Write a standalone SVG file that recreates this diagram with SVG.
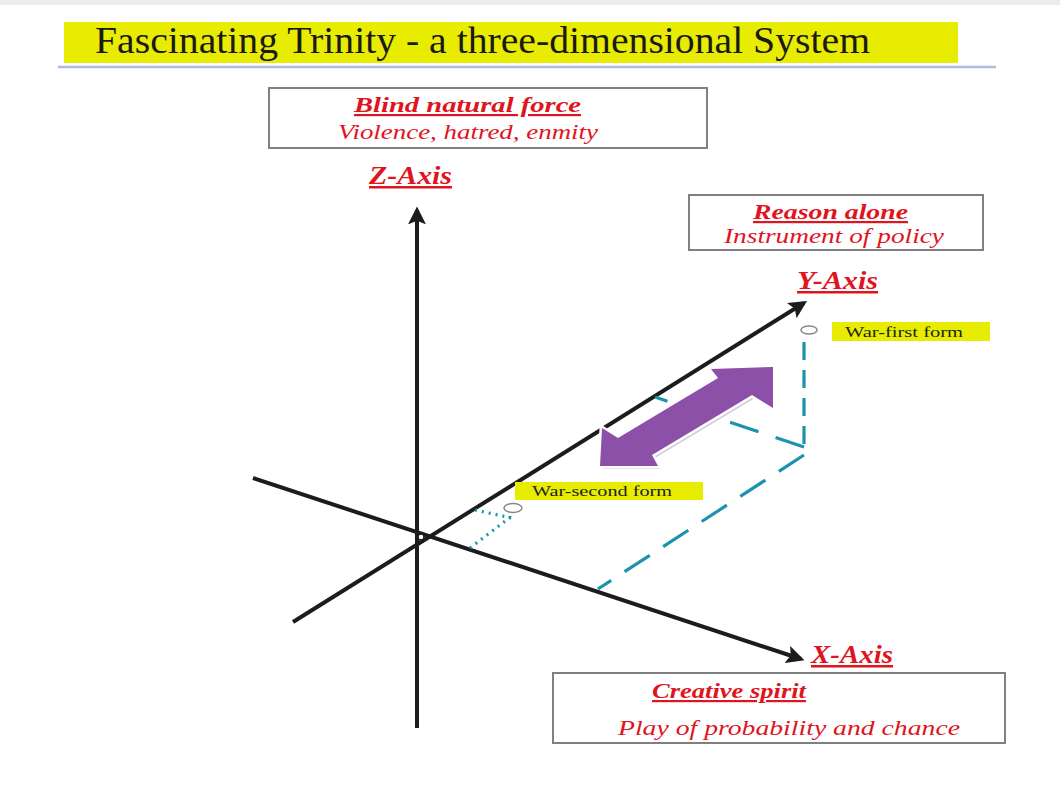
<svg xmlns="http://www.w3.org/2000/svg" width="1060" height="787" viewBox="0 0 1060 787">
<defs>
<style>
.box{fill:#fff;stroke:#808080;stroke-width:2}
.red{fill:#e0141e;font-family:"Liberation Serif",serif;font-style:italic}
.hd{font-weight:bold;text-decoration:underline}
.axis{stroke:#1c1c1c;stroke-width:4;fill:none}
.teal{stroke:#1b93ad;stroke-width:3.2;fill:none}
.tag{fill:#e8ec00}
.tagt{font-family:"Liberation Serif",serif;font-size:15px;fill:#222}
</style>
<marker id="ah" viewBox="0 0 10 10" refX="8" refY="5" markerWidth="18" markerHeight="18" markerUnits="userSpaceOnUse" orient="auto">
<path d="M0,0 L10,5 L0,10 L2,5 Z" fill="#1c1c1c"/>
</marker>
</defs>
<rect width="1060" height="787" fill="#fff"/>
<rect x="0" y="0" width="1060" height="5" fill="#ececec"/>

<g id="title">
<rect x="64" y="22" width="894" height="41" fill="#e8ec00"/>
<text x="95" y="53" font-family="Liberation Serif, serif" font-size="38" fill="#1a1a1a" textLength="775" lengthAdjust="spacingAndGlyphs">Fascinating Trinity - a three-dimensional  System</text>
<line x1="58" y1="67" x2="996" y2="67" stroke="#a9bfdc" stroke-width="2.5"/>
</g>

<g id="connectors">
<line class="axis" x1="417" y1="728" x2="417" y2="210" marker-end="url(#ah)"/>
<line class="axis" x1="293" y1="622" x2="804" y2="303" marker-end="url(#ah)"/>
<line class="axis" x1="253" y1="478" x2="801" y2="659" marker-end="url(#ah)"/>
<circle cx="421" cy="537" r="3" fill="#fff" stroke="#1c1c1c" stroke-width="1.5"/>
<line class="teal" x1="804" y1="342" x2="804" y2="447" stroke-dasharray="18 10"/>
<line class="teal" x1="804" y1="447" x2="655" y2="397" stroke-dasharray="30 18"/>
<line class="teal" x1="804" y1="455" x2="598" y2="589" stroke-dasharray="30 16"/>
<line class="teal" x1="470" y1="548" x2="513" y2="515" stroke-dasharray="2 5" stroke-width="2.5"/>
<line class="teal" x1="475" y1="510" x2="512" y2="518" stroke-dasharray="2 5" stroke-width="2.5"/>
</g>

<g id="double-arrow">
<polygon points="775,370 714,372 721,381 621,441 605,431 603,469 661,469 655,458 755,398 775,411" fill="#cfc8d6"/>
<polygon points="773,367 711,369 718,378 618,438 602,428 600,466 658,466 652,455 752,395 773,408" fill="#8c50a8" stroke="#fff" stroke-width="5" stroke-linejoin="miter" paint-order="stroke"/>
</g>

<g id="node-z">
<rect class="box" x="269" y="88" width="438" height="60"/>
<text class="red hd" x="354" y="112" font-size="22" textLength="227" lengthAdjust="spacingAndGlyphs">Blind  natural  force</text>
<text class="red" x="338" y="139" font-size="22" textLength="260" lengthAdjust="spacingAndGlyphs">Violence, hatred, enmity</text>
<text class="red hd" x="369" y="184" font-size="25" textLength="83" lengthAdjust="spacingAndGlyphs">Z-Axis</text>
</g>

<g id="node-y">
<rect class="box" x="689" y="195" width="294" height="55"/>
<text class="red hd" x="753" y="219" font-size="22" textLength="155" lengthAdjust="spacingAndGlyphs">Reason  alone</text>
<text class="red" x="724" y="243" font-size="22" textLength="220" lengthAdjust="spacingAndGlyphs">Instrument of policy</text>
<text class="red hd" x="797" y="289" font-size="25" textLength="81" lengthAdjust="spacingAndGlyphs">Y-Axis</text>
</g>

<g id="node-x">
<text class="red hd" x="811" y="663" font-size="25" textLength="82" lengthAdjust="spacingAndGlyphs">X-Axis</text>
<rect class="box" x="553" y="673" width="452" height="70"/>
<text class="red hd" x="652" y="698" font-size="22" textLength="154" lengthAdjust="spacingAndGlyphs">Creative spirit</text>
<text class="red" x="618" y="735" font-size="22" textLength="342" lengthAdjust="spacingAndGlyphs">Play of probability and chance</text>
</g>

<g id="war-first">
<ellipse cx="809" cy="330" rx="8" ry="4" fill="#fff" stroke="#888" stroke-width="1.5"/>
<rect class="tag" x="832" y="322" width="158" height="19"/>
<text class="tagt" x="845" y="337" textLength="118" lengthAdjust="spacingAndGlyphs">War-first form</text>
</g>

<g id="war-second">
<ellipse cx="513" cy="508" rx="9" ry="4.5" fill="#fff" stroke="#888" stroke-width="1.5"/>
<rect class="tag" x="515" y="482" width="188" height="18"/>
<text class="tagt" x="532" y="496" textLength="140" lengthAdjust="spacingAndGlyphs">War-second form</text>
</g>
</svg>
